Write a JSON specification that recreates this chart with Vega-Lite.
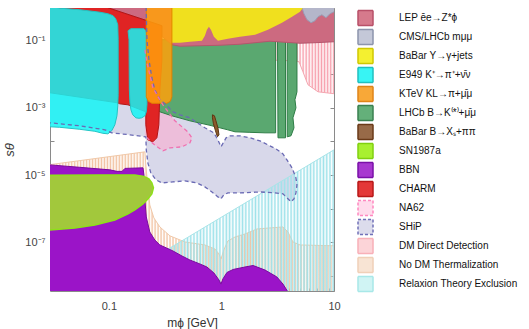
{
"$schema":"https://vega.github.io/schema/vega-lite/v6.json",
"width":284,"height":283,
"autosize":{"type":"none"},
"padding":{"left":50,"top":8,"right":195,"bottom":38},
"background":"white",
"config":{
 "font":"Liberation Sans",
 "view":{"stroke":null},
 "axis":{"domainColor":"#8a8a8a","tickColor":"#8a8a8a","labelColor":"#444","labelFont":"Liberation Sans","labelFontSize":11,"titleFont":"Liberation Sans","titleFontSize":12,"titleFontWeight":"normal","titleColor":"#333","grid":false,"zindex":1,"labelFlush":false,"labelOverlap":false,"labelBound":false}
},
"datasets":{
"leg":[{"r":"LEP ēe→Z*ϕ"},{"r":"CMS/LHCb mμμ"},{"r":"BaBar Υ→γ+jets"},{"r":"E949 K⁺→π⁺+ν̄ν"},{"r":"KTeV KL→π+μ̄μ"},{"r":"LHCb B→K⁽*⁾+μ̄μ"},{"r":"BaBar B→Xₛ+ππ"},{"r":"SN1987a"},{"r":"BBN"},{"r":"CHARM"},{"r":"NA62"},{"r":"SHiP"},{"r":"DM Direct Detection"},{"r":"No DM Thermalization"},{"r":"Relaxion Theory Exclusion"}],
"poly":[
{"r":"DM","i":0,"m":1.62,"s":0.12},{"r":"DM","i":1,"m":12,"s":0.12},{"r":"DM","i":2,"m":12,"s":0.00243},{"r":"DM","i":3,"m":7.21,"s":0.00298},{"r":"DM","i":4,"m":5.87,"s":0.00482},{"r":"DM","i":5,"m":5.3,"s":0.0117},{"r":"DM","i":6,"m":4.89,"s":0.0233},{"r":"DM","i":7,"m":4.06,"s":0.025},{"r":"DM","i":8,"m":2.2,"s":0.0267},{"r":"DM","i":9,"m":1.79,"s":0.0306},{"r":"DM","i":10,"m":1.62,"s":0.0745},
{"r":"ND","i":0,"m":0.027,"s":1.95e-5},{"r":"ND","i":1,"m":0.209,"s":4.9e-5},{"r":"ND","i":2,"m":0.213,"s":2.01e-5},{"r":"ND","i":3,"m":0.222,"s":4.46e-6},{"r":"ND","i":4,"m":0.231,"s":1.3e-6},{"r":"ND","i":5,"m":0.251,"s":5.35e-7},{"r":"ND","i":6,"m":0.284,"s":2.88e-7},{"r":"ND","i":7,"m":0.349,"s":1.56e-7},{"r":"ND","i":8,"m":0.474,"s":1.03e-7},{"r":"ND","i":9,"m":0.713,"s":8.39e-8},{"r":"ND","i":10,"m":0.875,"s":6.4e-8},{"r":"ND","i":11,"m":0.951,"s":4.54e-8},{"r":"ND","i":12,"m":0.991,"s":3.21e-8},{"r":"ND","i":13,"m":1.05,"s":5.96e-8},{"r":"ND","i":14,"m":1.14,"s":1.1e-7},{"r":"ND","i":15,"m":1.32,"s":1.45e-7},{"r":"ND","i":16,"m":1.62,"s":1.78e-7},{"r":"ND","i":17,"m":2.07,"s":2.51e-7},{"r":"ND","i":18,"m":2.7,"s":2.69e-7},{"r":"ND","i":19,"m":3.52,"s":2.88e-7},{"r":"ND","i":20,"m":3.9,"s":2.04e-7},{"r":"ND","i":21,"m":4.32,"s":1.03e-7},{"r":"ND","i":22,"m":4.99,"s":8.39e-8},{"r":"ND","i":23,"m":12,"s":7.83e-8},{"r":"ND","i":24,"m":12,"s":1e-9},{"r":"ND","i":25,"m":0.027,"s":1e-9},
{"r":"RX","i":0,"m":0.06,"s":2.02e-9},{"r":"RX","i":1,"m":12,"s":8.1e-5},{"r":"RX","i":2,"m":12,"s":1e-9},{"r":"RX","i":3,"m":0.06,"s":1e-9},
{"r":"SH","i":0,"m":0.0244,"s":3.7e-4},{"r":"SH","i":1,"m":0.0299,"s":3.57e-4},{"r":"SH","i":2,"m":0.0552,"s":2.91e-4},{"r":"SH","i":3,"m":0.0921,"s":2.21e-4},{"r":"SH","i":4,"m":0.106,"s":1.8e-4},{"r":"SH","i":5,"m":0.154,"s":1.57e-4},{"r":"SH","i":6,"m":0.213,"s":1.37e-4},{"r":"SH","i":7,"m":0.215,"s":5.62e-5},{"r":"SH","i":8,"m":0.222,"s":2.31e-5},{"r":"SH","i":9,"m":0.236,"s":1.16e-5},{"r":"SH","i":10,"m":0.262,"s":7.21e-6},{"r":"SH","i":11,"m":0.296,"s":5.86e-6},{"r":"SH","i":12,"m":0.371,"s":6.28e-6},{"r":"SH","i":13,"m":0.474,"s":6.73e-6},{"r":"SH","i":14,"m":0.605,"s":5.86e-6},{"r":"SH","i":15,"m":0.713,"s":4.46e-6},{"r":"SH","i":16,"m":0.824,"s":3.16e-6},{"r":"SH","i":17,"m":0.931,"s":2.25e-6},{"r":"SH","i":18,"m":0.991,"s":1.96e-6},{"r":"SH","i":19,"m":1.05,"s":2.58e-6},{"r":"SH","i":20,"m":1.14,"s":2.95e-6},{"r":"SH","i":21,"m":1.46,"s":2.95e-6},{"r":"SH","i":22,"m":2.2,"s":3.16e-6},{"r":"SH","i":23,"m":2.99,"s":2.95e-6},{"r":"SH","i":24,"m":3.52,"s":2.77e-6},{"r":"SH","i":25,"m":3.82,"s":2.1e-6},{"r":"SH","i":26,"m":4.15,"s":1.6e-6},{"r":"SH","i":27,"m":4.41,"s":1.96e-6},{"r":"SH","i":28,"m":4.59,"s":2.95e-6},{"r":"SH","i":29,"m":4.69,"s":5.12e-6},{"r":"SH","i":30,"m":4.59,"s":8.26e-6},{"r":"SH","i":31,"m":4.24,"s":1.64e-5},{"r":"SH","i":32,"m":3.82,"s":2.83e-5},{"r":"SH","i":33,"m":3.52,"s":4.27e-5},{"r":"SH","i":34,"m":3.05,"s":6.03e-5},{"r":"SH","i":35,"m":2.59,"s":7.92e-5},{"r":"SH","i":36,"m":2.2,"s":1.04e-4},{"r":"SH","i":37,"m":1.79,"s":1.28e-4},{"r":"SH","i":38,"m":1.46,"s":1.47e-4},{"r":"SH","i":39,"m":1.19,"s":1.47e-4},{"r":"SH","i":40,"m":1.1,"s":1.28e-4},{"r":"SH","i":41,"m":0.991,"s":6.9e-5},{"r":"SH","i":42,"m":0.931,"s":1.11e-4},{"r":"SH","i":43,"m":0.857,"s":1.8e-4},{"r":"SH","i":44,"m":0.713,"s":2.54e-4},{"r":"SH","i":45,"m":0.525,"s":5.02e-4},{"r":"SH","i":46,"m":0.428,"s":6.18e-4},{"r":"SH","i":47,"m":0.371,"s":7.58e-4},{"r":"SH","i":48,"m":0.315,"s":1.31e-3},{"r":"SH","i":49,"m":0.284,"s":1.73e-3},{"r":"SH","i":50,"m":0.256,"s":3.42e-3},{"r":"SH","i":51,"m":0.241,"s":7.78e-3},{"r":"SH","i":52,"m":0.227,"s":0.0267},{"r":"SH","i":53,"m":0.218,"s":0.105},{"r":"SH","i":54,"m":0.213,"s":2},{"r":"SH","i":55,"m":0.0244,"s":2},
{"r":"NA","i":0,"m":0.209,"s":0.0529},{"r":"NA","i":1,"m":0.218,"s":0.0217},{"r":"NA","i":2,"m":0.231,"s":0.00955},{"r":"NA","i":3,"m":0.246,"s":0.00393},{"r":"NA","i":4,"m":0.267,"s":0.00243},{"r":"NA","i":5,"m":0.302,"s":0.00122},{"r":"NA","i":6,"m":0.386,"s":0.000409},{"r":"NA","i":7,"m":0.503,"s":0.000193},{"r":"NA","i":8,"m":0.547,"s":0.000128},{"r":"NA","i":9,"m":0.525,"s":9.08e-5},{"r":"NA","i":10,"m":0.446,"s":6.9e-5},{"r":"NA","i":11,"m":0.349,"s":6.44e-5},{"r":"NA","i":12,"m":0.302,"s":5.25e-5},{"r":"NA","i":13,"m":0.262,"s":7.4e-5},{"r":"NA","i":14,"m":0.231,"s":1.04e-4},{"r":"NA","i":15,"m":0.209,"s":1.57e-4},
{"r":"LH","i":0,"m":0.246,"s":0.105},{"r":"LH","i":1,"m":4.69,"s":0.105},{"r":"LH","i":2,"m":4.69,"s":0.00298},{"r":"LH","i":3,"m":4.5,"s":0.00173},{"r":"LH","i":4,"m":4.59,"s":0.000997},{"r":"LH","i":5,"m":4.32,"s":0.000502},{"r":"LH","i":6,"m":4.41,"s":0.000254},{"r":"LH","i":7,"m":4.15,"s":0.000147},{"r":"LH","i":8,"m":3.84,"s":0.000137},{"r":"LH","i":9,"m":3.84,"s":0.098},{"r":"LH","i":10,"m":3.71,"s":0.098},{"r":"LH","i":11,"m":3.71,"s":0.000128},{"r":"LH","i":12,"m":3.18,"s":0.000128},{"r":"LH","i":13,"m":3.15,"s":0.098},{"r":"LH","i":14,"m":3.03,"s":0.098},{"r":"LH","i":15,"m":3.03,"s":0.00018},{"r":"LH","i":16,"m":2.44,"s":0.00018},{"r":"LH","i":17,"m":1.79,"s":0.000186},{"r":"LH","i":18,"m":1.32,"s":0.000193},{"r":"LH","i":19,"m":1.14,"s":0.000221},{"r":"LH","i":20,"m":0.791,"s":0.000301},{"r":"LH","i":21,"m":0.525,"s":0.000409},{"r":"LH","i":22,"m":0.363,"s":0.000577},{"r":"LH","i":23,"m":0.284,"s":0.000758},{"r":"LH","i":24,"m":0.246,"s":0.00122},
{"r":"LEP","i":0,"m":0.0832,"s":1.62},{"r":"LEP","i":1,"m":12,"s":1.62},{"r":"LEP","i":2,"m":12,"s":0.0914},{"r":"LEP","i":3,"m":10,"s":0.0914},{"r":"LEP","i":4,"m":6.78,"s":0.0855},{"r":"LEP","i":5,"m":4.99,"s":0.0826},{"r":"LEP","i":6,"m":3.67,"s":0.0884},{"r":"LEP","i":7,"m":2.7,"s":0.0947},{"r":"LEP","i":8,"m":1.99,"s":0.0855},{"r":"LEP","i":9,"m":1.46,"s":0.0771},{"r":"LEP","i":10,"m":0.97,"s":0.072},{"r":"LEP","i":11,"m":0.644,"s":0.0695},{"r":"LEP","i":12,"m":0.428,"s":0.0673},{"r":"LEP","i":13,"m":0.363,"s":0.0745},{"r":"LEP","i":14,"m":0.284,"s":0.148},{"r":"LEP","i":15,"m":0.218,"s":0.386},{"r":"LEP","i":16,"m":0.098,"s":0.937},
{"r":"CMS","i":0,"m":4.99,"s":1.62},{"r":"CMS","i":1,"m":5.2,"s":0.937},{"r":"CMS","i":2,"m":5.41,"s":0.622},{"r":"CMS","i":3,"m":5.76,"s":0.413},{"r":"CMS","i":4,"m":6.25,"s":0.336},{"r":"CMS","i":5,"m":6.78,"s":0.386},{"r":"CMS","i":6,"m":7.21,"s":0.507},{"r":"CMS","i":7,"m":7.81,"s":0.58},{"r":"CMS","i":8,"m":8.49,"s":0.473},{"r":"CMS","i":9,"m":9.2,"s":0.622},{"r":"CMS","i":10,"m":10,"s":0.713},{"r":"CMS","i":11,"m":12,"s":0.713},{"r":"CMS","i":12,"m":12,"s":1.62},
{"r":"BY","i":0,"m":0.356,"s":1.62},{"r":"BY","i":1,"m":5.41,"s":1.62},{"r":"BY","i":2,"m":5.3,"s":0.937},{"r":"BY","i":3,"m":4.99,"s":0.713},{"r":"BY","i":4,"m":4.24,"s":0.507},{"r":"BY","i":5,"m":3.45,"s":0.336},{"r":"BY","i":6,"m":2.59,"s":0.208},{"r":"BY","i":7,"m":1.99,"s":0.148},{"r":"BY","i":8,"m":1.46,"s":0.129},{"r":"BY","i":9,"m":1.14,"s":0.112},{"r":"BY","i":10,"m":0.931,"s":0.098},{"r":"BY","i":11,"m":0.857,"s":0.129},{"r":"BY","i":12,"m":0.807,"s":0.208},{"r":"BY","i":13,"m":0.774,"s":0.255},{"r":"BY","i":14,"m":0.743,"s":0.208},{"r":"BY","i":15,"m":0.713,"s":0.138},{"r":"BY","i":16,"m":0.671,"s":0.098},{"r":"BY","i":17,"m":0.525,"s":0.0914},{"r":"BY","i":18,"m":0.428,"s":0.0855},{"r":"BY","i":19,"m":0.356,"s":0.0855},
{"r":"CH","i":0,"m":0.0244,"s":1.62},{"r":"CH","i":1,"m":0.0832,"s":1.62},{"r":"CH","i":2,"m":0.098,"s":0.937},{"r":"CH","i":3,"m":0.218,"s":0.386},{"r":"CH","i":4,"m":0.296,"s":0.274},{"r":"CH","i":5,"m":0.296,"s":0.0267},{"r":"CH","i":6,"m":0.284,"s":0.00342},{"r":"CH","i":7,"m":0.278,"s":0.000311},{"r":"CH","i":8,"m":0.267,"s":0.000128},{"r":"CH","i":9,"m":0.246,"s":9.72e-5},{"r":"CH","i":10,"m":0.222,"s":0.000111},{"r":"CH","i":11,"m":0.213,"s":0.000311},{"r":"CH","i":12,"m":0.213,"s":0.000758},{"r":"CH","i":13,"m":0.148,"s":0.00122},{"r":"CH","i":14,"m":0.125,"s":0.00131},{"r":"CH","i":15,"m":0.12,"s":0.0014},{"r":"CH","i":16,"m":0.0299,"s":0.00279},{"r":"CH","i":17,"m":0.0244,"s":0.00298},
{"r":"E1","i":0,"m":0.0244,"s":1.2},{"r":"E1","i":1,"m":0.0366,"s":0.907},{"r":"E1","i":2,"m":0.0552,"s":0.818},{"r":"E1","i":3,"m":0.0832,"s":0.69},{"r":"E1","i":4,"m":0.098,"s":0.622},{"r":"E1","i":5,"m":0.109,"s":0.543},{"r":"E1","i":6,"m":0.115,"s":0.441},{"r":"E1","i":7,"m":0.12,"s":0.293},{"r":"E1","i":8,"m":0.121,"s":0.105},{"r":"E1","i":9,"m":0.121,"s":0.00243},{"r":"E1","i":10,"m":0.12,"s":0.00114},{"r":"E1","i":11,"m":0.118,"s":0.000577},{"r":"E1","i":12,"m":0.113,"s":0.000311},{"r":"E1","i":13,"m":0.106,"s":0.000207},{"r":"E1","i":14,"m":0.098,"s":0.000168},{"r":"E1","i":15,"m":0.0885,"s":0.000174},{"r":"E1","i":16,"m":0.0751,"s":0.0002},{"r":"E1","i":17,"m":0.0552,"s":0.000229},{"r":"E1","i":18,"m":0.0366,"s":0.000263},{"r":"E1","i":19,"m":0.0244,"s":0.000281},
{"r":"E2","i":0,"m":0.148,"s":0.194},{"r":"E2","i":1,"m":0.157,"s":0.223},{"r":"E2","i":2,"m":0.205,"s":0.223},{"r":"E2","i":3,"m":0.213,"s":0.194},{"r":"E2","i":4,"m":0.218,"s":0.148},{"r":"E2","i":5,"m":0.218,"s":0.00122},{"r":"E2","i":6,"m":0.215,"s":0.000758},{"r":"E2","i":7,"m":0.209,"s":0.000577},{"r":"E2","i":8,"m":0.196,"s":0.000502},{"r":"E2","i":9,"m":0.185,"s":0.000486},{"r":"E2","i":10,"m":0.174,"s":0.000502},{"r":"E2","i":11,"m":0.163,"s":0.000618},{"r":"E2","i":12,"m":0.157,"s":0.000869},{"r":"E2","i":13,"m":0.154,"s":0.0014},{"r":"E2","i":14,"m":0.152,"s":0.00342},{"r":"E2","i":15,"m":0.151,"s":0.105},
{"r":"KT","i":0,"m":0.215,"s":1.62},{"r":"KT","i":1,"m":0.363,"s":1.62},{"r":"KT","i":2,"m":0.363,"s":0.00212},{"r":"KT","i":3,"m":0.352,"s":0.00156},{"r":"KT","i":4,"m":0.328,"s":0.00136},{"r":"KT","i":5,"m":0.241,"s":0.00136},{"r":"KT","i":6,"m":0.224,"s":0.00156},{"r":"KT","i":7,"m":0.215,"s":0.00212},
{"r":"BB","i":0,"m":0.832,"s":0.000618},{"r":"BB","i":1,"m":0.867,"s":0.000577},{"r":"BB","i":2,"m":0.894,"s":0.000409},{"r":"BB","i":3,"m":0.931,"s":0.000254},{"r":"BB","i":4,"m":0.951,"s":0.000157},{"r":"BB","i":5,"m":0.921,"s":0.000137},{"r":"BB","i":6,"m":0.885,"s":0.000207},{"r":"BB","i":7,"m":0.849,"s":0.000333},{"r":"BB","i":8,"m":0.832,"s":0.000502},
{"r":"BBN","i":0,"m":0.0244,"s":2.08e-5},{"r":"BBN","i":1,"m":0.0299,"s":2.01e-5},{"r":"BBN","i":2,"m":0.0552,"s":1.7e-5},{"r":"BBN","i":3,"m":0.102,"s":1.43e-5},{"r":"BBN","i":4,"m":0.118,"s":1.29e-5},{"r":"BBN","i":5,"m":0.131,"s":1.29e-5},{"r":"BBN","i":6,"m":0.139,"s":1.58e-5},{"r":"BBN","i":7,"m":0.201,"s":1.64e-5},{"r":"BBN","i":8,"m":0.205,"s":1.01e-5},{"r":"BBN","i":9,"m":0.209,"s":1.83e-6},{"r":"BBN","i":10,"m":0.215,"s":5.71e-7},{"r":"BBN","i":11,"m":0.231,"s":2.04e-7},{"r":"BBN","i":12,"m":0.256,"s":1.18e-7},{"r":"BBN","i":13,"m":0.284,"s":8.39e-8},{"r":"BBN","i":14,"m":0.371,"s":5.57e-8},{"r":"BBN","i":15,"m":0.446,"s":3.95e-8},{"r":"BBN","i":16,"m":0.525,"s":3.0e-8},{"r":"BBN","i":17,"m":0.644,"s":2.29e-8},{"r":"BBN","i":18,"m":0.743,"s":1.86e-8},{"r":"BBN","i":19,"m":0.857,"s":1.24e-8},{"r":"BBN","i":20,"m":0.951,"s":7.66e-9},{"r":"BBN","i":21,"m":0.991,"s":5.79e-9},{"r":"BBN","i":22,"m":1.03,"s":8.2e-9},{"r":"BBN","i":23,"m":1.12,"s":1.28e-8},{"r":"BBN","i":24,"m":1.27,"s":1.57e-8},{"r":"BBN","i":25,"m":1.62,"s":1.86e-8},{"r":"BBN","i":26,"m":1.91,"s":2.06e-8},{"r":"BBN","i":27,"m":2.44,"s":1.51e-8},{"r":"BBN","i":28,"m":3.11,"s":9.4e-9},{"r":"BBN","i":29,"m":3.52,"s":5.79e-9},{"r":"BBN","i":30,"m":3.9,"s":3.37e-9},{"r":"BBN","i":31,"m":4.24,"s":1e-9},{"r":"BBN","i":32,"m":0.0244,"s":1e-9},
{"r":"SN","i":0,"m":0.0244,"s":9.8e-6},{"r":"SN","i":1,"m":0.0832,"s":1.01e-5},{"r":"SN","i":2,"m":0.17,"s":1.01e-5},{"r":"SN","i":3,"m":0.205,"s":9.16e-6},{"r":"SN","i":4,"m":0.227,"s":7.72e-6},{"r":"SN","i":5,"m":0.241,"s":5.86e-6},{"r":"SN","i":6,"m":0.249,"s":4.17e-6},{"r":"SN","i":7,"m":0.241,"s":2.77e-6},{"r":"SN","i":8,"m":0.222,"s":1.96e-6},{"r":"SN","i":9,"m":0.201,"s":1.39e-6},{"r":"SN","i":10,"m":0.17,"s":9.22e-7},{"r":"SN","i":11,"m":0.148,"s":7.02e-7},{"r":"SN","i":12,"m":0.113,"s":4.65e-7},{"r":"SN","i":13,"m":0.0751,"s":3.3e-7},{"r":"SN","i":14,"m":0.0499,"s":2.69e-7},{"r":"SN","i":15,"m":0.0299,"s":2.34e-7},{"r":"SN","i":16,"m":0.0244,"s":2.27e-7}
]},
"data":{"name":"poly"},
"encoding":{
 "x":{"field":"m","type":"quantitative","scale":{"type":"log","domain":[0.03,10],"nice":false},"axis":null},
 "y":{"field":"s","type":"quantitative","scale":{"type":"log","domain":[3.6e-9,0.92],"nice":false},"axis":null},
 "order":{"field":"i","type":"quantitative"}
},
"layer":[
 {"transform":[{"filter":"datum.r=='SH'"}],"mark":{"type":"line","interpolate":"linear-closed","fill":"#d8d8ea","stroke":"transparent","clip":true}},
 {"transform":[{"filter":"datum.r=='NA'"}],"mark":{"type":"line","interpolate":"linear-closed","fill":"#f2b8d6","fillOpacity":0.8,"stroke":"transparent","clip":true}},
 {"transform":[{"filter":"datum.r=='DM'"}],"mark":{"type":"line","interpolate":"linear-closed","stroke":"#f4a6b0","strokeWidth":1,"clip":true,
   "fill":{"gradient":"linear","x1":0,"x2":1,"y1":0,"y2":0,"stops":[
{"offset":0,"color":"#f7a1ae"},{"offset":0.015625,"color":"rgba(247,161,174,0)"},{"offset":0.03125,"color":"#f7a1ae"},{"offset":0.046875,"color":"rgba(247,161,174,0)"},{"offset":0.0625,"color":"#f7a1ae"},{"offset":0.078125,"color":"rgba(247,161,174,0)"},{"offset":0.09375,"color":"#f7a1ae"},{"offset":0.109375,"color":"rgba(247,161,174,0)"},
{"offset":0.125,"color":"#f7a1ae"},{"offset":0.140625,"color":"rgba(247,161,174,0)"},{"offset":0.15625,"color":"#f7a1ae"},{"offset":0.171875,"color":"rgba(247,161,174,0)"},{"offset":0.1875,"color":"#f7a1ae"},{"offset":0.203125,"color":"rgba(247,161,174,0)"},{"offset":0.21875,"color":"#f7a1ae"},{"offset":0.234375,"color":"rgba(247,161,174,0)"},
{"offset":0.25,"color":"#f7a1ae"},{"offset":0.265625,"color":"rgba(247,161,174,0)"},{"offset":0.28125,"color":"#f7a1ae"},{"offset":0.296875,"color":"rgba(247,161,174,0)"},{"offset":0.3125,"color":"#f7a1ae"},{"offset":0.328125,"color":"rgba(247,161,174,0)"},{"offset":0.34375,"color":"#f7a1ae"},{"offset":0.359375,"color":"rgba(247,161,174,0)"},
{"offset":0.375,"color":"#f7a1ae"},{"offset":0.390625,"color":"rgba(247,161,174,0)"},{"offset":0.40625,"color":"#f7a1ae"},{"offset":0.421875,"color":"rgba(247,161,174,0)"},{"offset":0.4375,"color":"#f7a1ae"},{"offset":0.453125,"color":"rgba(247,161,174,0)"},{"offset":0.46875,"color":"#f7a1ae"},{"offset":0.484375,"color":"rgba(247,161,174,0)"},
{"offset":0.5,"color":"#f7a1ae"},{"offset":0.515625,"color":"rgba(247,161,174,0)"},{"offset":0.53125,"color":"#f7a1ae"},{"offset":0.546875,"color":"rgba(247,161,174,0)"},{"offset":0.5625,"color":"#f7a1ae"},{"offset":0.578125,"color":"rgba(247,161,174,0)"},{"offset":0.59375,"color":"#f7a1ae"},{"offset":0.609375,"color":"rgba(247,161,174,0)"},
{"offset":0.625,"color":"#f7a1ae"},{"offset":0.640625,"color":"rgba(247,161,174,0)"},{"offset":0.65625,"color":"#f7a1ae"},{"offset":0.671875,"color":"rgba(247,161,174,0)"},{"offset":0.6875,"color":"#f7a1ae"},{"offset":0.703125,"color":"rgba(247,161,174,0)"},{"offset":0.71875,"color":"#f7a1ae"},{"offset":0.734375,"color":"rgba(247,161,174,0)"},
{"offset":0.75,"color":"#f7a1ae"},{"offset":0.765625,"color":"rgba(247,161,174,0)"},{"offset":0.78125,"color":"#f7a1ae"},{"offset":0.796875,"color":"rgba(247,161,174,0)"},{"offset":0.8125,"color":"#f7a1ae"},{"offset":0.828125,"color":"rgba(247,161,174,0)"},{"offset":0.84375,"color":"#f7a1ae"},{"offset":0.859375,"color":"rgba(247,161,174,0)"},
{"offset":0.875,"color":"#f7a1ae"},{"offset":0.890625,"color":"rgba(247,161,174,0)"},{"offset":0.90625,"color":"#f7a1ae"},{"offset":0.921875,"color":"rgba(247,161,174,0)"},{"offset":0.9375,"color":"#f7a1ae"},{"offset":0.953125,"color":"rgba(247,161,174,0)"},{"offset":0.96875,"color":"#f7a1ae"},{"offset":0.984375,"color":"rgba(247,161,174,0)"},{"offset":1,"color":"#f7a1ae"}]}}},
 {"transform":[{"filter":"datum.r=='ND'"}],"mark":{"type":"line","interpolate":"linear-closed","stroke":"#f0c8a8","strokeWidth":1,"clip":true,
   "fill":{"gradient":"linear","x1":0,"x2":1,"y1":0,"y2":0,"stops":[
{"offset":0,"color":"#f2c4a4"},{"offset":0.005,"color":"rgba(242,196,164,0)"},{"offset":0.01,"color":"#f2c4a4"},{"offset":0.015,"color":"rgba(242,196,164,0)"},{"offset":0.02,"color":"#f2c4a4"},{"offset":0.025,"color":"rgba(242,196,164,0)"},{"offset":0.03,"color":"#f2c4a4"},{"offset":0.035,"color":"rgba(242,196,164,0)"},{"offset":0.04,"color":"#f2c4a4"},{"offset":0.045,"color":"rgba(242,196,164,0)"},
{"offset":0.05,"color":"#f2c4a4"},{"offset":0.055,"color":"rgba(242,196,164,0)"},{"offset":0.06,"color":"#f2c4a4"},{"offset":0.065,"color":"rgba(242,196,164,0)"},{"offset":0.07,"color":"#f2c4a4"},{"offset":0.075,"color":"rgba(242,196,164,0)"},{"offset":0.08,"color":"#f2c4a4"},{"offset":0.085,"color":"rgba(242,196,164,0)"},{"offset":0.09,"color":"#f2c4a4"},{"offset":0.095,"color":"rgba(242,196,164,0)"},
{"offset":0.1,"color":"#f2c4a4"},{"offset":0.105,"color":"rgba(242,196,164,0)"},{"offset":0.11,"color":"#f2c4a4"},{"offset":0.115,"color":"rgba(242,196,164,0)"},{"offset":0.12,"color":"#f2c4a4"},{"offset":0.125,"color":"rgba(242,196,164,0)"},{"offset":0.13,"color":"#f2c4a4"},{"offset":0.135,"color":"rgba(242,196,164,0)"},{"offset":0.14,"color":"#f2c4a4"},{"offset":0.145,"color":"rgba(242,196,164,0)"},
{"offset":0.15,"color":"#f2c4a4"},{"offset":0.155,"color":"rgba(242,196,164,0)"},{"offset":0.16,"color":"#f2c4a4"},{"offset":0.165,"color":"rgba(242,196,164,0)"},{"offset":0.17,"color":"#f2c4a4"},{"offset":0.175,"color":"rgba(242,196,164,0)"},{"offset":0.18,"color":"#f2c4a4"},{"offset":0.185,"color":"rgba(242,196,164,0)"},{"offset":0.19,"color":"#f2c4a4"},{"offset":0.195,"color":"rgba(242,196,164,0)"},
{"offset":0.2,"color":"#f2c4a4"},{"offset":0.205,"color":"rgba(242,196,164,0)"},{"offset":0.21,"color":"#f2c4a4"},{"offset":0.215,"color":"rgba(242,196,164,0)"},{"offset":0.22,"color":"#f2c4a4"},{"offset":0.225,"color":"rgba(242,196,164,0)"},{"offset":0.23,"color":"#f2c4a4"},{"offset":0.235,"color":"rgba(242,196,164,0)"},{"offset":0.24,"color":"#f2c4a4"},{"offset":0.245,"color":"rgba(242,196,164,0)"},
{"offset":0.25,"color":"#f2c4a4"},{"offset":0.255,"color":"rgba(242,196,164,0)"},{"offset":0.26,"color":"#f2c4a4"},{"offset":0.265,"color":"rgba(242,196,164,0)"},{"offset":0.27,"color":"#f2c4a4"},{"offset":0.275,"color":"rgba(242,196,164,0)"},{"offset":0.28,"color":"#f2c4a4"},{"offset":0.285,"color":"rgba(242,196,164,0)"},{"offset":0.29,"color":"#f2c4a4"},{"offset":0.295,"color":"rgba(242,196,164,0)"},
{"offset":0.3,"color":"#f2c4a4"},{"offset":0.305,"color":"rgba(242,196,164,0)"},{"offset":0.31,"color":"#f2c4a4"},{"offset":0.315,"color":"rgba(242,196,164,0)"},{"offset":0.32,"color":"#f2c4a4"},{"offset":0.325,"color":"rgba(242,196,164,0)"},{"offset":0.33,"color":"#f2c4a4"},{"offset":0.335,"color":"rgba(242,196,164,0)"},{"offset":0.34,"color":"#f2c4a4"},{"offset":0.345,"color":"rgba(242,196,164,0)"},
{"offset":0.35,"color":"#f2c4a4"},{"offset":0.355,"color":"rgba(242,196,164,0)"},{"offset":0.36,"color":"#f2c4a4"},{"offset":0.365,"color":"rgba(242,196,164,0)"},{"offset":0.37,"color":"#f2c4a4"},{"offset":0.375,"color":"rgba(242,196,164,0)"},{"offset":0.38,"color":"#f2c4a4"},{"offset":0.385,"color":"rgba(242,196,164,0)"},{"offset":0.39,"color":"#f2c4a4"},{"offset":0.395,"color":"rgba(242,196,164,0)"},
{"offset":0.4,"color":"#f2c4a4"},{"offset":0.405,"color":"rgba(242,196,164,0)"},{"offset":0.41,"color":"#f2c4a4"},{"offset":0.415,"color":"rgba(242,196,164,0)"},{"offset":0.42,"color":"#f2c4a4"},{"offset":0.425,"color":"rgba(242,196,164,0)"},{"offset":0.43,"color":"#f2c4a4"},{"offset":0.435,"color":"rgba(242,196,164,0)"},{"offset":0.44,"color":"#f2c4a4"},{"offset":0.445,"color":"rgba(242,196,164,0)"},
{"offset":0.45,"color":"#f2c4a4"},{"offset":0.455,"color":"rgba(242,196,164,0)"},{"offset":0.46,"color":"#f2c4a4"},{"offset":0.465,"color":"rgba(242,196,164,0)"},{"offset":0.47,"color":"#f2c4a4"},{"offset":0.475,"color":"rgba(242,196,164,0)"},{"offset":0.48,"color":"#f2c4a4"},{"offset":0.485,"color":"rgba(242,196,164,0)"},{"offset":0.49,"color":"#f2c4a4"},{"offset":0.495,"color":"rgba(242,196,164,0)"},
{"offset":0.5,"color":"#f2c4a4"},{"offset":0.505,"color":"rgba(242,196,164,0)"},{"offset":0.51,"color":"#f2c4a4"},{"offset":0.515,"color":"rgba(242,196,164,0)"},{"offset":0.52,"color":"#f2c4a4"},{"offset":0.525,"color":"rgba(242,196,164,0)"},{"offset":0.53,"color":"#f2c4a4"},{"offset":0.535,"color":"rgba(242,196,164,0)"},{"offset":0.54,"color":"#f2c4a4"},{"offset":0.545,"color":"rgba(242,196,164,0)"},
{"offset":0.55,"color":"#f2c4a4"},{"offset":0.555,"color":"rgba(242,196,164,0)"},{"offset":0.56,"color":"#f2c4a4"},{"offset":0.565,"color":"rgba(242,196,164,0)"},{"offset":0.57,"color":"#f2c4a4"},{"offset":0.575,"color":"rgba(242,196,164,0)"},{"offset":0.58,"color":"#f2c4a4"},{"offset":0.585,"color":"rgba(242,196,164,0)"},{"offset":0.59,"color":"#f2c4a4"},{"offset":0.595,"color":"rgba(242,196,164,0)"},
{"offset":0.6,"color":"#f2c4a4"},{"offset":0.605,"color":"rgba(242,196,164,0)"},{"offset":0.61,"color":"#f2c4a4"},{"offset":0.615,"color":"rgba(242,196,164,0)"},{"offset":0.62,"color":"#f2c4a4"},{"offset":0.625,"color":"rgba(242,196,164,0)"},{"offset":0.63,"color":"#f2c4a4"},{"offset":0.635,"color":"rgba(242,196,164,0)"},{"offset":0.64,"color":"#f2c4a4"},{"offset":0.645,"color":"rgba(242,196,164,0)"},
{"offset":0.65,"color":"#f2c4a4"},{"offset":0.655,"color":"rgba(242,196,164,0)"},{"offset":0.66,"color":"#f2c4a4"},{"offset":0.665,"color":"rgba(242,196,164,0)"},{"offset":0.67,"color":"#f2c4a4"},{"offset":0.675,"color":"rgba(242,196,164,0)"},{"offset":0.68,"color":"#f2c4a4"},{"offset":0.685,"color":"rgba(242,196,164,0)"},{"offset":0.69,"color":"#f2c4a4"},{"offset":0.695,"color":"rgba(242,196,164,0)"},
{"offset":0.7,"color":"#f2c4a4"},{"offset":0.705,"color":"rgba(242,196,164,0)"},{"offset":0.71,"color":"#f2c4a4"},{"offset":0.715,"color":"rgba(242,196,164,0)"},{"offset":0.72,"color":"#f2c4a4"},{"offset":0.725,"color":"rgba(242,196,164,0)"},{"offset":0.73,"color":"#f2c4a4"},{"offset":0.735,"color":"rgba(242,196,164,0)"},{"offset":0.74,"color":"#f2c4a4"},{"offset":0.745,"color":"rgba(242,196,164,0)"},
{"offset":0.75,"color":"#f2c4a4"},{"offset":0.755,"color":"rgba(242,196,164,0)"},{"offset":0.76,"color":"#f2c4a4"},{"offset":0.765,"color":"rgba(242,196,164,0)"},{"offset":0.77,"color":"#f2c4a4"},{"offset":0.775,"color":"rgba(242,196,164,0)"},{"offset":0.78,"color":"#f2c4a4"},{"offset":0.785,"color":"rgba(242,196,164,0)"},{"offset":0.79,"color":"#f2c4a4"},{"offset":0.795,"color":"rgba(242,196,164,0)"},
{"offset":0.8,"color":"#f2c4a4"},{"offset":0.805,"color":"rgba(242,196,164,0)"},{"offset":0.81,"color":"#f2c4a4"},{"offset":0.815,"color":"rgba(242,196,164,0)"},{"offset":0.82,"color":"#f2c4a4"},{"offset":0.825,"color":"rgba(242,196,164,0)"},{"offset":0.83,"color":"#f2c4a4"},{"offset":0.835,"color":"rgba(242,196,164,0)"},{"offset":0.84,"color":"#f2c4a4"},{"offset":0.845,"color":"rgba(242,196,164,0)"},
{"offset":0.85,"color":"#f2c4a4"},{"offset":0.855,"color":"rgba(242,196,164,0)"},{"offset":0.86,"color":"#f2c4a4"},{"offset":0.865,"color":"rgba(242,196,164,0)"},{"offset":0.87,"color":"#f2c4a4"},{"offset":0.875,"color":"rgba(242,196,164,0)"},{"offset":0.88,"color":"#f2c4a4"},{"offset":0.885,"color":"rgba(242,196,164,0)"},{"offset":0.89,"color":"#f2c4a4"},{"offset":0.895,"color":"rgba(242,196,164,0)"},
{"offset":0.9,"color":"#f2c4a4"},{"offset":0.905,"color":"rgba(242,196,164,0)"},{"offset":0.91,"color":"#f2c4a4"},{"offset":0.915,"color":"rgba(242,196,164,0)"},{"offset":0.92,"color":"#f2c4a4"},{"offset":0.925,"color":"rgba(242,196,164,0)"},{"offset":0.93,"color":"#f2c4a4"},{"offset":0.935,"color":"rgba(242,196,164,0)"},{"offset":0.94,"color":"#f2c4a4"},{"offset":0.945,"color":"rgba(242,196,164,0)"},
{"offset":0.95,"color":"#f2c4a4"},{"offset":0.955,"color":"rgba(242,196,164,0)"},{"offset":0.96,"color":"#f2c4a4"},{"offset":0.965,"color":"rgba(242,196,164,0)"},{"offset":0.97,"color":"#f2c4a4"},{"offset":0.975,"color":"rgba(242,196,164,0)"},{"offset":0.98,"color":"#f2c4a4"},{"offset":0.985,"color":"rgba(242,196,164,0)"},{"offset":0.99,"color":"#f2c4a4"},{"offset":0.995,"color":"rgba(242,196,164,0)"},{"offset":1,"color":"#f2c4a4"}]}}},
 {"transform":[{"filter":"datum.r=='RX'"}],"mark":{"type":"line","interpolate":"linear-closed","stroke":"#a8e4e8","strokeWidth":1,"clip":true,
   "fill":{"gradient":"linear","x1":0,"x2":1,"y1":0,"y2":0,"stops":[
{"offset":0,"color":"#9fe2ea"},{"offset":0.00625,"color":"rgba(159,226,234,0)"},{"offset":0.0125,"color":"#9fe2ea"},{"offset":0.01875,"color":"rgba(159,226,234,0)"},{"offset":0.025,"color":"#9fe2ea"},{"offset":0.03125,"color":"rgba(159,226,234,0)"},{"offset":0.0375,"color":"#9fe2ea"},{"offset":0.04375,"color":"rgba(159,226,234,0)"},
{"offset":0.05,"color":"#9fe2ea"},{"offset":0.05625,"color":"rgba(159,226,234,0)"},{"offset":0.0625,"color":"#9fe2ea"},{"offset":0.06875,"color":"rgba(159,226,234,0)"},{"offset":0.075,"color":"#9fe2ea"},{"offset":0.08125,"color":"rgba(159,226,234,0)"},{"offset":0.0875,"color":"#9fe2ea"},{"offset":0.09375,"color":"rgba(159,226,234,0)"},
{"offset":0.1,"color":"#9fe2ea"},{"offset":0.10625,"color":"rgba(159,226,234,0)"},{"offset":0.1125,"color":"#9fe2ea"},{"offset":0.11875,"color":"rgba(159,226,234,0)"},{"offset":0.125,"color":"#9fe2ea"},{"offset":0.13125,"color":"rgba(159,226,234,0)"},{"offset":0.1375,"color":"#9fe2ea"},{"offset":0.14375,"color":"rgba(159,226,234,0)"},
{"offset":0.15,"color":"#9fe2ea"},{"offset":0.15625,"color":"rgba(159,226,234,0)"},{"offset":0.1625,"color":"#9fe2ea"},{"offset":0.16875,"color":"rgba(159,226,234,0)"},{"offset":0.175,"color":"#9fe2ea"},{"offset":0.18125,"color":"rgba(159,226,234,0)"},{"offset":0.1875,"color":"#9fe2ea"},{"offset":0.19375,"color":"rgba(159,226,234,0)"},
{"offset":0.2,"color":"#9fe2ea"},{"offset":0.20625,"color":"rgba(159,226,234,0)"},{"offset":0.2125,"color":"#9fe2ea"},{"offset":0.21875,"color":"rgba(159,226,234,0)"},{"offset":0.225,"color":"#9fe2ea"},{"offset":0.23125,"color":"rgba(159,226,234,0)"},{"offset":0.2375,"color":"#9fe2ea"},{"offset":0.24375,"color":"rgba(159,226,234,0)"},
{"offset":0.25,"color":"#9fe2ea"},{"offset":0.25625,"color":"rgba(159,226,234,0)"},{"offset":0.2625,"color":"#9fe2ea"},{"offset":0.26875,"color":"rgba(159,226,234,0)"},{"offset":0.275,"color":"#9fe2ea"},{"offset":0.28125,"color":"rgba(159,226,234,0)"},{"offset":0.2875,"color":"#9fe2ea"},{"offset":0.29375,"color":"rgba(159,226,234,0)"},
{"offset":0.3,"color":"#9fe2ea"},{"offset":0.30625,"color":"rgba(159,226,234,0)"},{"offset":0.3125,"color":"#9fe2ea"},{"offset":0.31875,"color":"rgba(159,226,234,0)"},{"offset":0.325,"color":"#9fe2ea"},{"offset":0.33125,"color":"rgba(159,226,234,0)"},{"offset":0.3375,"color":"#9fe2ea"},{"offset":0.34375,"color":"rgba(159,226,234,0)"},
{"offset":0.35,"color":"#9fe2ea"},{"offset":0.35625,"color":"rgba(159,226,234,0)"},{"offset":0.3625,"color":"#9fe2ea"},{"offset":0.36875,"color":"rgba(159,226,234,0)"},{"offset":0.375,"color":"#9fe2ea"},{"offset":0.38125,"color":"rgba(159,226,234,0)"},{"offset":0.3875,"color":"#9fe2ea"},{"offset":0.39375,"color":"rgba(159,226,234,0)"},
{"offset":0.4,"color":"#9fe2ea"},{"offset":0.40625,"color":"rgba(159,226,234,0)"},{"offset":0.4125,"color":"#9fe2ea"},{"offset":0.41875,"color":"rgba(159,226,234,0)"},{"offset":0.425,"color":"#9fe2ea"},{"offset":0.43125,"color":"rgba(159,226,234,0)"},{"offset":0.4375,"color":"#9fe2ea"},{"offset":0.44375,"color":"rgba(159,226,234,0)"},
{"offset":0.45,"color":"#9fe2ea"},{"offset":0.45625,"color":"rgba(159,226,234,0)"},{"offset":0.4625,"color":"#9fe2ea"},{"offset":0.46875,"color":"rgba(159,226,234,0)"},{"offset":0.475,"color":"#9fe2ea"},{"offset":0.48125,"color":"rgba(159,226,234,0)"},{"offset":0.4875,"color":"#9fe2ea"},{"offset":0.49375,"color":"rgba(159,226,234,0)"},
{"offset":0.5,"color":"#9fe2ea"},{"offset":0.50625,"color":"rgba(159,226,234,0)"},{"offset":0.5125,"color":"#9fe2ea"},{"offset":0.51875,"color":"rgba(159,226,234,0)"},{"offset":0.525,"color":"#9fe2ea"},{"offset":0.53125,"color":"rgba(159,226,234,0)"},{"offset":0.5375,"color":"#9fe2ea"},{"offset":0.54375,"color":"rgba(159,226,234,0)"},
{"offset":0.55,"color":"#9fe2ea"},{"offset":0.55625,"color":"rgba(159,226,234,0)"},{"offset":0.5625,"color":"#9fe2ea"},{"offset":0.56875,"color":"rgba(159,226,234,0)"},{"offset":0.575,"color":"#9fe2ea"},{"offset":0.58125,"color":"rgba(159,226,234,0)"},{"offset":0.5875,"color":"#9fe2ea"},{"offset":0.59375,"color":"rgba(159,226,234,0)"},
{"offset":0.6,"color":"#9fe2ea"},{"offset":0.60625,"color":"rgba(159,226,234,0)"},{"offset":0.6125,"color":"#9fe2ea"},{"offset":0.61875,"color":"rgba(159,226,234,0)"},{"offset":0.625,"color":"#9fe2ea"},{"offset":0.63125,"color":"rgba(159,226,234,0)"},{"offset":0.6375,"color":"#9fe2ea"},{"offset":0.64375,"color":"rgba(159,226,234,0)"},
{"offset":0.65,"color":"#9fe2ea"},{"offset":0.65625,"color":"rgba(159,226,234,0)"},{"offset":0.6625,"color":"#9fe2ea"},{"offset":0.66875,"color":"rgba(159,226,234,0)"},{"offset":0.675,"color":"#9fe2ea"},{"offset":0.68125,"color":"rgba(159,226,234,0)"},{"offset":0.6875,"color":"#9fe2ea"},{"offset":0.69375,"color":"rgba(159,226,234,0)"},
{"offset":0.7,"color":"#9fe2ea"},{"offset":0.70625,"color":"rgba(159,226,234,0)"},{"offset":0.7125,"color":"#9fe2ea"},{"offset":0.71875,"color":"rgba(159,226,234,0)"},{"offset":0.725,"color":"#9fe2ea"},{"offset":0.73125,"color":"rgba(159,226,234,0)"},{"offset":0.7375,"color":"#9fe2ea"},{"offset":0.74375,"color":"rgba(159,226,234,0)"},
{"offset":0.75,"color":"#9fe2ea"},{"offset":0.75625,"color":"rgba(159,226,234,0)"},{"offset":0.7625,"color":"#9fe2ea"},{"offset":0.76875,"color":"rgba(159,226,234,0)"},{"offset":0.775,"color":"#9fe2ea"},{"offset":0.78125,"color":"rgba(159,226,234,0)"},{"offset":0.7875,"color":"#9fe2ea"},{"offset":0.79375,"color":"rgba(159,226,234,0)"},
{"offset":0.8,"color":"#9fe2ea"},{"offset":0.80625,"color":"rgba(159,226,234,0)"},{"offset":0.8125,"color":"#9fe2ea"},{"offset":0.81875,"color":"rgba(159,226,234,0)"},{"offset":0.825,"color":"#9fe2ea"},{"offset":0.83125,"color":"rgba(159,226,234,0)"},{"offset":0.8375,"color":"#9fe2ea"},{"offset":0.84375,"color":"rgba(159,226,234,0)"},
{"offset":0.85,"color":"#9fe2ea"},{"offset":0.85625,"color":"rgba(159,226,234,0)"},{"offset":0.8625,"color":"#9fe2ea"},{"offset":0.86875,"color":"rgba(159,226,234,0)"},{"offset":0.875,"color":"#9fe2ea"},{"offset":0.88125,"color":"rgba(159,226,234,0)"},{"offset":0.8875,"color":"#9fe2ea"},{"offset":0.89375,"color":"rgba(159,226,234,0)"},
{"offset":0.9,"color":"#9fe2ea"},{"offset":0.90625,"color":"rgba(159,226,234,0)"},{"offset":0.9125,"color":"#9fe2ea"},{"offset":0.91875,"color":"rgba(159,226,234,0)"},{"offset":0.925,"color":"#9fe2ea"},{"offset":0.93125,"color":"rgba(159,226,234,0)"},{"offset":0.9375,"color":"#9fe2ea"},{"offset":0.94375,"color":"rgba(159,226,234,0)"},
{"offset":0.95,"color":"#9fe2ea"},{"offset":0.95625,"color":"rgba(159,226,234,0)"},{"offset":0.9625,"color":"#9fe2ea"},{"offset":0.96875,"color":"rgba(159,226,234,0)"},{"offset":0.975,"color":"#9fe2ea"},{"offset":0.98125,"color":"rgba(159,226,234,0)"},{"offset":0.9875,"color":"#9fe2ea"},{"offset":0.99375,"color":"rgba(159,226,234,0)"},{"offset":1,"color":"#9fe2ea"}]}}},
 {"transform":[{"filter":"datum.r=='LH'"}],"mark":{"type":"line","interpolate":"linear-closed","fill":"#5aa870","stroke":"#2e7d46","strokeWidth":1,"clip":true}},
 {"transform":[{"filter":"datum.r=='LEP'"}],"mark":{"type":"line","interpolate":"linear-closed","fill":"#cc6a80","stroke":"#b4566c","strokeWidth":1,"clip":true}},
 {"transform":[{"filter":"datum.r=='CMS'"}],"mark":{"type":"line","interpolate":"linear-closed","fill":"#b4b6ca","stroke":"#9a9cb4","strokeWidth":1,"clip":true}},
 {"transform":[{"filter":"datum.r=='BY'"}],"mark":{"type":"line","interpolate":"linear-closed","fill":"#f0e01e","stroke":"transparent","clip":true}},
 {"transform":[{"filter":"datum.r=='CH'"}],"mark":{"type":"line","interpolate":"linear-closed","fill":"#e02424","stroke":"#b41414","strokeWidth":1,"clip":true}},
 {"transform":[{"filter":"datum.r=='E1'"}],"mark":{"type":"line","interpolate":"linear-closed","fill":"#14f5f5","fillOpacity":0.85,"stroke":"#22c4c4","strokeWidth":1,"clip":true}},
 {"transform":[{"filter":"datum.r=='E2'"}],"mark":{"type":"line","interpolate":"linear-closed","fill":"#14f5f5","fillOpacity":0.85,"stroke":"#22c4c4","strokeWidth":1,"clip":true}},
 {"transform":[{"filter":"datum.r=='KT'"}],"mark":{"type":"line","interpolate":"linear-closed","fill":"#ffa00a","fillOpacity":0.85,"stroke":"#e08000","strokeWidth":1,"clip":true}},
 {"transform":[{"filter":"datum.r=='BB'"}],"mark":{"type":"line","interpolate":"linear-closed","fill":"#8b5a2b","stroke":"#5e3512","strokeWidth":1,"clip":true}},
 {"transform":[{"filter":"datum.r=='BBN'"}],"mark":{"type":"line","interpolate":"linear-closed","fill":"#9b14c8","stroke":"#7a0a9e","strokeWidth":1,"clip":true}},
 {"transform":[{"filter":"datum.r=='SN'"}],"mark":{"type":"line","interpolate":"linear-closed","fill":"#a2c83c","stroke":"#8ee01a","strokeWidth":1.5,"clip":true}},
 {"transform":[{"filter":"datum.r=='SH'"}],"mark":{"type":"line","interpolate":"linear","stroke":"#6a6ab4","strokeDash":[4,3],"strokeWidth":1.3,"clip":true}},
 {"transform":[{"filter":"datum.r=='NA'"}],"mark":{"type":"line","interpolate":"linear","stroke":"#f070b0","strokeDash":[4,3],"strokeWidth":1.3,"clip":true}},
 {"data":{"name":"leg"},"mark":{"type":"point","opacity":0},
  "encoding":{
   "x":{"field":"m","type":"quantitative","scale":{"type":"log","domain":[0.03,10],"nice":false},
        "axis":{"orient":"bottom","values":[0.1,1,10],"labelExpr":"format(datum.value,'~g')","tickSize":-5,"labelPadding":14,"title":"mϕ [GeV]","titlePadding":6,"domain":true}},
   "y":{"field":"s","type":"quantitative","scale":{"type":"log","domain":[3.6e-9,0.92],"nice":false},
        "axis":{"orient":"left","values":[1e-8,1e-7,1e-6,1e-5,1e-4,0.001,0.01,0.1],"labelExpr":"datum.value==0.1?'10⁻¹':datum.value==0.001?'10⁻³':datum.value==0.00001?'10⁻⁵':datum.value==1e-7?'10⁻⁷':''","tickSize":-4,"labelPadding":9,"title":"sθ","titleFontStyle":"italic","titleFontSize":13,"titlePadding":8,"domain":true}}
  }},
 {"data":{"name":"leg"},"mark":{"type":"point","opacity":0},
  "encoding":{
   "x":{"field":"m","type":"quantitative","scale":{"type":"log","domain":[0.03,10],"nice":false},
        "axis":{"orient":"top","values":[0.1,1,10],"labels":false,"tickSize":-5,"title":null,"domain":true}},
   "y":{"field":"s","type":"quantitative","scale":{"type":"log","domain":[3.6e-9,0.92],"nice":false},
        "axis":{"orient":"right","values":[1e-8,1e-7,1e-6,1e-5,1e-4,0.001,0.01,0.1],"labels":false,"tickSize":-4,"title":null,"domain":true}}
  }},
 {"data":{"name":"leg"},"mark":{"type":"point","opacity":0},
  "encoding":{
   "x":{"field":"m","type":"quantitative","scale":{"type":"log","domain":[0.03,10],"nice":false},
        "axis":{"orient":"bottom","values":[0.04,0.05,0.06,0.07,0.08,0.09,0.2,0.3,0.4,0.5,0.6,0.7,0.8,0.9,2,3,4,5,6,7,8,9],"labels":false,"tickSize":-3,"title":null,"domain":false}},
   "y":{"field":"s","type":"quantitative","scale":{"type":"log","domain":[3.6e-9,0.92],"nice":false},"axis":null}
  }},
 {"data":{"name":"leg"},"mark":{"type":"point","opacity":0},
  "encoding":{
   "x":{"field":"m","type":"quantitative","scale":{"type":"log","domain":[0.03,10],"nice":false},
        "axis":{"orient":"top","values":[0.04,0.05,0.06,0.07,0.08,0.09,0.2,0.3,0.4,0.5,0.6,0.7,0.8,0.9,2,3,4,5,6,7,8,9],"labels":false,"tickSize":-3,"title":null,"domain":false}},
   "y":{"field":"s","type":"quantitative","scale":{"type":"log","domain":[3.6e-9,0.92],"nice":false},"axis":null}
  }},
 {"data":{"name":"leg"},"mark":{"type":"square","opacity":0},
  "encoding":{
   "fill":{"field":"r","type":"nominal","sort":null,
     "scale":{"domain":["LEP ēe→Z*ϕ","CMS/LHCb mμμ","BaBar Υ→γ+jets","E949 K⁺→π⁺+ν̄ν","KTeV KL→π+μ̄μ","LHCb B→K⁽*⁾+μ̄μ","BaBar B→Xₛ+ππ","SN1987a","BBN","CHARM","NA62","SHiP","DM Direct Detection","No DM Thermalization","Relaxion Theory Exclusion"],
              "range":["#d67a8c","#c4c8d8","#f4f030","#38f4f4","#f8a838","#64b07a","#986a48","#a8f030","#a838d0","#e43838","#ffdcec","#dcdcec","#fcd4d8","#f8e4d4","#d0f4f4"]},
     "legend":{"orient":"none","legendX":307,"legendY":1.5,"title":null,"symbolType":"square","symbolSize":225,"symbolStrokeWidth":1.5,"symbolOpacity":1,"labelFont":"Liberation Sans","labelFontSize":10,"labelColor":"#111","labelOffset":25,"rowPadding":-2,"padding":0,"labelLimit":300}},
   "stroke":{"field":"r","type":"nominal","sort":null,
     "scale":{"domain":["LEP ēe→Z*ϕ","CMS/LHCb mμμ","BaBar Υ→γ+jets","E949 K⁺→π⁺+ν̄ν","KTeV KL→π+μ̄μ","LHCb B→K⁽*⁾+μ̄μ","BaBar B→Xₛ+ππ","SN1987a","BBN","CHARM","NA62","SHiP","DM Direct Detection","No DM Thermalization","Relaxion Theory Exclusion"],
              "range":["#b85068","#8c94ac","#d0c800","#20c0c0","#e08418","#3a8050","#6a3a18","#80d010","#7a10a8","#b81818","#ff88c0","#7070b8","#f8b0b8","#f0d0b8","#a8e8e8"]},
     "legend":{"orient":"none","legendX":307,"legendY":1.5,"title":null,"symbolType":"square","symbolSize":225,"symbolStrokeWidth":1.5,"symbolOpacity":1,"labelFont":"Liberation Sans","labelFontSize":10,"labelColor":"#111","labelOffset":25,"rowPadding":-2,"padding":0,"labelLimit":300}},
   "strokeDash":{"field":"r","type":"nominal","sort":null,
     "scale":{"domain":["LEP ēe→Z*ϕ","CMS/LHCb mμμ","BaBar Υ→γ+jets","E949 K⁺→π⁺+ν̄ν","KTeV KL→π+μ̄μ","LHCb B→K⁽*⁾+μ̄μ","BaBar B→Xₛ+ππ","SN1987a","BBN","CHARM","NA62","SHiP","DM Direct Detection","No DM Thermalization","Relaxion Theory Exclusion"],
              "range":[[1,0],[1,0],[1,0],[1,0],[1,0],[1,0],[1,0],[1,0],[1,0],[1,0],[3,2],[3,2],[1,0],[1,0],[1,0]]},
     "legend":{"orient":"none","legendX":307,"legendY":1.5,"title":null,"symbolType":"square","symbolSize":225,"symbolStrokeWidth":1.5,"symbolOpacity":1,"labelFont":"Liberation Sans","labelFontSize":10,"labelColor":"#111","labelOffset":25,"rowPadding":-2,"padding":0,"labelLimit":300}}
  }}
],
"resolve":{"axis":{"x":"independent","y":"independent"}}
}
